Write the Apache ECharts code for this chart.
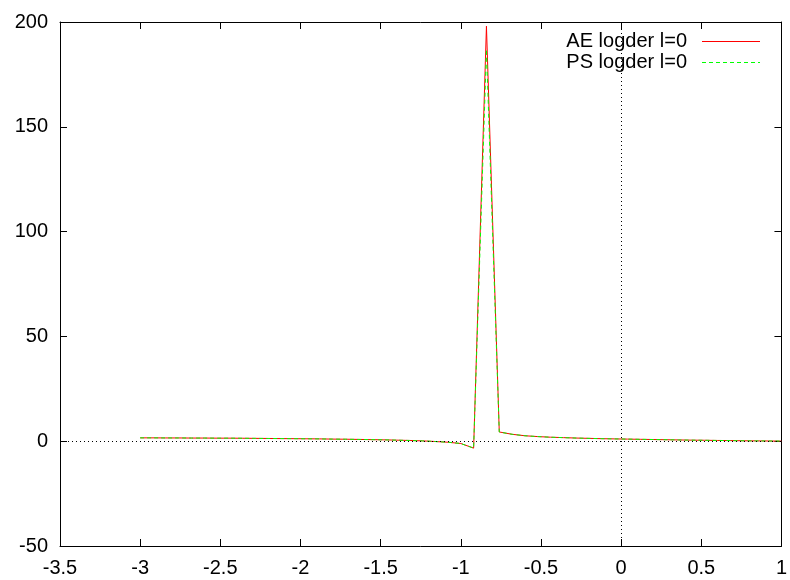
<!DOCTYPE html>
<html><head><meta charset="utf-8">
<script src="https://cdn.jsdelivr.net/npm/echarts@6/dist/echarts.min.js"></script>
<style>html,body{margin:0;padding:0;background:#fff}#c{width:790px;height:580px}</style>
</head><body><div id="c"></div>
<script>
const xValues = [-3.00,-2.92,-2.84,-2.76,-2.68,-2.60,-2.52,-2.44,-2.36,-2.28,-2.20,-2.12,-2.04,-1.96,-1.88,-1.80,-1.72,-1.64,-1.56,-1.48,-1.40,-1.32,-1.24,-1.16,-1.08,-1.00,-0.92,-0.84,-0.76,-0.68,-0.60,-0.52,-0.44,-0.36,-0.28,-0.20,-0.12,-0.04,0.04,0.12,0.20,0.28,0.36,0.44,0.52,0.60,0.68,0.76,0.84,0.92,1.00];
const aeValues = [1.6,1.6,1.55,1.55,1.5,1.5,1.45,1.45,1.4,1.35,1.3,1.25,1.2,1.15,1.1,1.0,0.95,0.85,0.75,0.65,0.5,0.35,0.15,-0.15,-0.5,-1.1,-3.3,198,4.4,3.3,2.6,2.2,1.9,1.7,1.5,1.35,1.2,1.1,1.0,0.9,0.8,0.7,0.6,0.5,0.45,0.35,0.3,0.2,0.15,0.1,0.05];
const psValues = [1.6,1.6,1.55,1.55,1.5,1.5,1.45,1.45,1.4,1.35,1.3,1.25,1.2,1.15,1.1,1.0,0.95,0.85,0.75,0.65,0.5,0.35,0.15,-0.15,-0.5,-1.1,-3.3,187,4.4,3.3,2.6,2.2,1.9,1.7,1.5,1.35,1.2,1.1,1.0,0.9,0.8,0.7,0.6,0.5,0.45,0.35,0.3,0.2,0.15,0.1,0.05];
const seriesNames = ['AE logder l=0','PS logder l=0'];
const xTicks = [-3.5,-3,-2.5,-2,-1.5,-1,-0.5,0,0.5,1];
const yTicks = [-50,0,50,100,150,200];

const FONT = 'Liberation Sans';
const chart = echarts.init(document.getElementById('c'), null, {renderer:'canvas'});
const pair = (xs, ys) => xs.map((x,i)=>[x, ys[i]]);
const axisLine = {show:true, onZero:false, lineStyle:{color:'#000', width:1}};
const tick = {show:true, inside:true, length:7, lineStyle:{color:'#000', width:1}};
// legend sample icons: solid bar and dashed bar (58 wide, 1 tall)
const solidIcon = 'path://M0,0h58v1h-58z';
let dashPath = 'path://';
for (let s = 0; s < 58; s += 7) { const w = Math.min(4, 58 - s); dashPath += 'M' + s + ',0h' + w + 'v1h-' + w + 'z'; }
chart.setOption({
  animation:false,
  backgroundColor:'#fff',
  grid:{left:60, right:7, top:22, bottom:34, containLabel:false},
  legend:{
    orient:'vertical', right:25, top:26, align:'right',
    itemWidth:58, itemHeight:1, itemGap:0,
    textStyle:{fontFamily:FONT, fontSize:20, color:'#000', lineHeight:21, padding:[0,10,0,0]},
    data:[
      {name:seriesNames[0], icon:solidIcon, itemStyle:{color:'#ff0000', opacity:1}},
      {name:seriesNames[1], icon:dashPath, itemStyle:{color:'#00ff00', opacity:1}}
    ]
  },
  xAxis:[
    {type:'value', min:xTicks[0], max:xTicks[xTicks.length-1], interval:0.5, position:'bottom',
     axisLine:axisLine, axisTick:tick, splitLine:{show:false},
     axisLabel:{fontFamily:FONT, fontSize:20, color:'#000', margin:12, formatter:v=>String(v)}},
    {type:'value', min:xTicks[0], max:xTicks[xTicks.length-1], interval:0.5, position:'top',
     axisLine:axisLine, axisTick:tick, splitLine:{show:false}, axisLabel:{show:false}}
  ],
  yAxis:[
    {type:'value', min:yTicks[0], max:yTicks[yTicks.length-1], interval:50, position:'left',
     axisLine:axisLine, axisTick:tick, splitLine:{show:false},
     axisLabel:{fontFamily:FONT, fontSize:20, color:'#000', margin:12}},
    {type:'value', min:yTicks[0], max:yTicks[yTicks.length-1], interval:50, position:'right',
     axisLine:axisLine, axisTick:tick, splitLine:{show:false}, axisLabel:{show:false}}
  ],
  series:[
    {name:'zero axes', type:'line', data:[], symbol:'none', z:1,
     markLine:{silent:true, symbol:'none', label:{show:false},
       lineStyle:{color:'#000', type:[1,3], width:1},
       data:[{yAxis:0},{xAxis:0}]}},
    {name:seriesNames[0], type:'line', data:pair(xValues, aeValues), symbol:'none',
     color:'#ff0000',
     lineStyle:{color:'#ff0000', width:1}, itemStyle:{color:'#ff0000'}, z:3},
    {name:seriesNames[1], type:'line', data:pair(xValues, psValues), symbol:'none',
     color:'#00ff00',
     lineStyle:{color:'#00ff00', width:1, type:[4,3]}, itemStyle:{color:'#00ff00'}, z:4}
  ]
});
</script></body></html>
